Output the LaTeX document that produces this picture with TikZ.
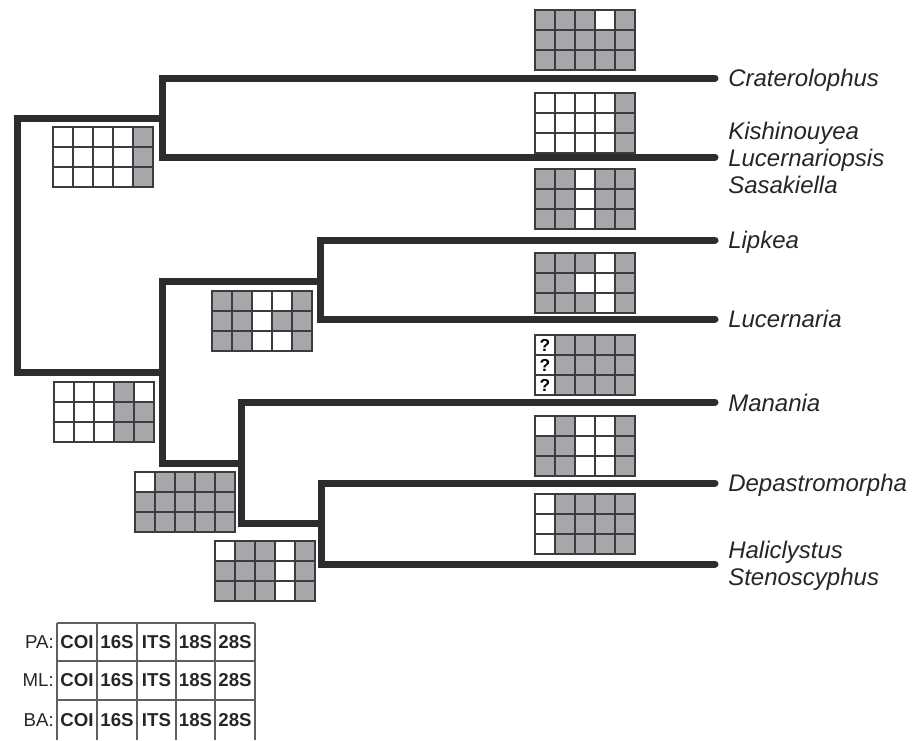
\documentclass[tikz,border=0pt]{standalone}
\usepackage{fontspec}
\setmainfont{Liberation Sans}
\definecolor{cellgray}{RGB}{167,167,171}
\definecolor{branchcol}{RGB}{45,45,45}
\definecolor{gridcol}{RGB}{60,60,60}
\definecolor{legcol}{RGB}{95,95,95}
\newcommand{\cellgrid}[4]{%
  \foreach \v [count=\k from 0] in {#4} {
    \pgfmathtruncatemacro{\cc}{mod(\k,5)}
    \pgfmathtruncatemacro{\rr}{div(\k,5)}
    \ifnum\v=1 \def\fc{cellgray}\else\def\fc{white}\fi
    \draw[cellbox, fill=\fc] ({#2+20*\cc},{#3+20*\rr}) rectangle ++(20,20);
    \ifnum\v=2 \node[qmark] (#1q\rr) at ({#2+20*\cc+10},{#3+20*\rr+10}) {?};\fi
  }}
\tikzset{
  cellbox/.style={draw=gridcol, line width=1.1pt},
  qmark/.style={font=\fontsize{13}{13}\selectfont\bfseries, inner sep=0pt},
  branch/.style={draw=branchcol, line width=5.25pt, line cap=round, line join=miter},
  taxon/.style={font=\fontsize{18}{20}\selectfont\itshape, anchor=base west, inner sep=0pt, text=black!85},
  legline/.style={draw=legcol, line width=0.8pt},
  legtext/.style={font=\fontsize{14}{14}\selectfont\bfseries, inner sep=0pt, text=black!85},
  leglabel/.style={font=\fontsize{14}{14}\selectfont, anchor=east, inner sep=0pt, text=black!85}
}
\begin{document}
\begin{tikzpicture}[x=0.75pt,y=-0.75pt]
\useasboundingbox (0,0) rectangle (915,740);
% internal nodes of the tree
\coordinate (R) at (17,245);
\coordinate (A) at (162,118);
\coordinate (B) at (162,372);
\coordinate (C) at (320,281);
\coordinate (D) at (241,463);
\coordinate (E) at (321,523);
% tips
\coordinate (tCra) at (715,78);
\coordinate (tLsp) at (715,157);
\coordinate (tLip) at (715,240);
\coordinate (tLuc) at (715,319);
\coordinate (tMan) at (715,402);
\coordinate (tDep) at (715,483);
\coordinate (tHal) at (715,564);
% branches
\draw[branch] (A) -| (R) |- (B);
\draw[branch] (tCra) -| (A) |- (tLsp);
\draw[branch] (C) -| (B) |- (D);
\draw[branch] (tLip) -| (C) |- (tLuc);
\draw[branch] (tMan) -| (D) |- (E);
\draw[branch] (tDep) -| (E) |- (tHal);
% taxon labels
\node[taxon] (lCra) at (728,86.5) {Craterolophus};
\node[taxon] (lKis) at (728,139) {Kishinouyea};
\node[taxon] (lLsp) at (728,166) {Lucernariopsis};
\node[taxon] (lSas) at (728,193) {Sasakiella};
\node[taxon] (lLip) at (728,248.5) {Lipkea};
\node[taxon] (lLuc) at (728,327.5) {Lucernaria};
\node[taxon] (lMan) at (728,411) {Manania};
\node[taxon] (lDep) at (728,491) {Depastromorpha};
\node[taxon] (lHal) at (728,558) {Haliclystus};
\node[taxon] (lSte) at (728,585) {Stenoscyphus};
% support grids on terminal branches
\cellgrid{g1}{535}{10}{1,1,1,0,1,1,1,1,1,1,1,1,1,1,1}
\cellgrid{g2}{535}{93}{0,0,0,0,1,0,0,0,0,1,0,0,0,0,1}
\cellgrid{g3}{535}{169}{1,1,0,1,1,1,1,0,1,1,1,1,0,1,1}
\cellgrid{g4}{535}{253}{1,1,1,0,1,1,1,0,0,1,1,1,1,0,1}
\cellgrid{g5}{535}{335}{2,1,1,1,1,2,1,1,1,1,2,1,1,1,1}
\cellgrid{g6}{535}{416}{0,1,0,0,1,1,1,0,0,1,1,1,0,0,1}
\cellgrid{g7}{535}{494}{0,1,1,1,1,0,1,1,1,1,0,1,1,1,1}
% support grids on internal branches
\cellgrid{n1}{53}{127}{0,0,0,0,1,0,0,0,0,1,0,0,0,0,1}
\cellgrid{n2}{212}{291}{1,1,0,0,1,1,1,0,1,1,1,1,0,0,1}
\cellgrid{n3}{54}{382}{0,0,0,1,0,0,0,0,1,1,0,0,0,1,1}
\cellgrid{n4}{135}{472}{0,1,1,1,1,1,1,1,1,1,1,1,1,1,1}
\cellgrid{n5}{215}{541}{0,1,1,0,1,1,1,1,0,1,1,1,1,0,1}
% legend
\foreach \yy in {623,661,700} \draw[legline] (57,\yy) -- (255,\yy);
\foreach \xx in {57,97,137,176,215,255} \draw[legline] (\xx,623) -- (\xx,740);
\foreach \lab/\yy [count=\r] in {PA:/642,ML:/680.5,BA:/720} {
  \node[leglabel] (lab\r) at (54,\yy) {\lab};
  \foreach \g/\xx [count=\c] in {COI/77,16S/117,ITS/156.5,18S/195.5,28S/235} {
    \node[legtext] (leg\r\c) at (\xx,\yy) {\g};
  }
}
\end{tikzpicture}
\end{document}
